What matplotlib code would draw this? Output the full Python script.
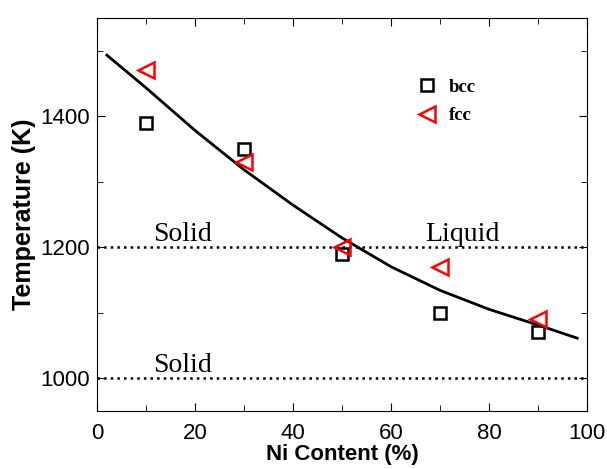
import matplotlib
matplotlib.use("Agg")
import matplotlib.pyplot as plt
from matplotlib.ticker import MultipleLocator

# data
ni = [10, 30, 50, 70, 90]
bcc = [1390, 1350, 1190, 1100, 1070]
fcc = [1470, 1330, 1200, 1170, 1090]

fit_x = [2, 10, 20, 30, 40, 50, 60, 70, 80, 90, 98]
fit_y = [1493, 1443, 1378, 1318, 1264, 1214, 1170, 1134, 1105, 1081, 1061]

liquidus = 1200
solidus = 1000

plt.rcParams.update({'font.family': 'Liberation Sans'})

fig = plt.figure(figsize=(6.07, 4.69), dpi=100)
ax = fig.add_axes([0.16, 0.124, 0.807, 0.838])

ax.plot(fit_x, fit_y, color='black', lw=2)
ax.axhline(liquidus, color='black', ls=':', lw=1.8)
ax.axhline(solidus, color='black', ls=':', lw=1.8)

ax.plot(ni, bcc, ls='none', marker='s', ms=8, mfc='none', mec='black', mew=1.8, label='bcc')
ax.plot(ni, fcc, ls='none', marker='<', ms=11, mfc='none', mec='red', mew=1.8, label='fcc')

ax.text(11.5, 1209, 'Solid', family='Liberation Serif', fontsize=20)
ax.text(67, 1209, 'Liquid', family='Liberation Serif', fontsize=20)
ax.text(11.5, 1009, 'Solid', family='Liberation Serif', fontsize=20)

ax.legend(loc='upper left', bbox_to_anchor=(0.6, 0.888), frameon=False,
          prop={'family': 'Liberation Serif', 'weight': 'bold', 'size': 13.5},
          handletextpad=0.18, labelspacing=0.6)

ax.set_xlim(0, 100)
ax.set_ylim(950, 1550)
ax.xaxis.set_major_locator(MultipleLocator(20))
ax.xaxis.set_minor_locator(MultipleLocator(10))
ax.yaxis.set_major_locator(MultipleLocator(200))
ax.yaxis.set_minor_locator(MultipleLocator(100))
ax.tick_params(which='both', direction='in', top=True, right=True, labelsize=16)
ax.tick_params(which='major', length=6)
ax.tick_params(which='minor', length=4)
ax.tick_params(axis='x', which='major', pad=9)
ax.tick_params(axis='y', which='major', pad=5)
ax.set_yticks([1000, 1200, 1400])

ax.set_xlabel('Ni Content (%)', fontsize=16, fontweight='bold', labelpad=0)
ax.set_ylabel('Temperature (K)', fontsize=18, fontweight='bold', labelpad=3)

fig.savefig('out.png', dpi=100)
